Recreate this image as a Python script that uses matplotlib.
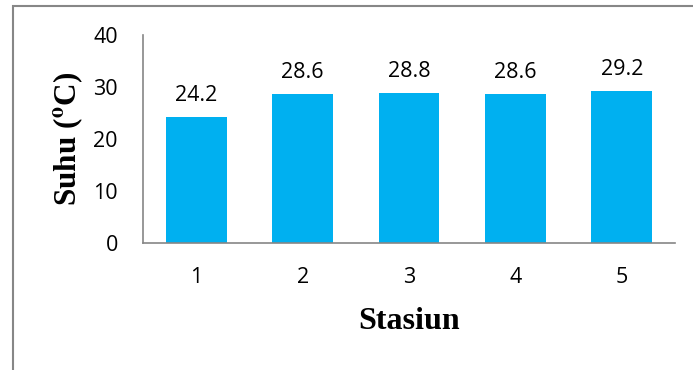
import matplotlib.pyplot as plt
from matplotlib.patches import Rectangle

stasiun = ['1', '2', '3', '4', '5']
suhu = [24.2, 28.6, 28.8, 28.6, 29.2]
yticks = [0, 10, 20, 30, 40]

plt.rcParams['mathtext.fontset'] = 'stix'

fig = plt.figure(figsize=(6.93, 3.70), dpi=100)
W, H = 693, 370
ax = fig.add_axes([143 / W, 1 - 243 / H, (675 - 143) / W, (243 - 35) / H])

# light frame around the chart area
fig.patches.append(Rectangle((13 / W, -0.1), 1.2, 1 - 6 / H + 0.1, transform=fig.transFigure,
                             fill=False, edgecolor='#878787', linewidth=1.5))

x = range(len(stasiun))
bars = ax.bar(x, suhu, width=0.57, color='#00B0F0')
for b, v in zip(bars, suhu):
    ax.annotate(f'{v}', (b.get_x() + b.get_width() / 2, v), xytext=(0, 8),
                textcoords='offset points', ha='center', va='bottom',
                fontsize=15.5, family='Open Sans')

ax.set_xlim(-0.5, len(stasiun) - 0.5)
ax.set_ylim(0, 40)
ax.set_yticks(yticks)
ax.set_xticks(list(x))
ax.set_xticklabels(stasiun)
for lab in ax.get_xticklabels() + ax.get_yticklabels():
    lab.set_family('Open Sans')
    lab.set_fontsize(15.5)
ax.tick_params(length=0)
ax.tick_params(axis='x', pad=17)
ax.tick_params(axis='y', pad=18)

for s in ['top', 'right']:
    ax.spines[s].set_visible(False)
for s in ['left', 'bottom']:
    ax.spines[s].set_color('#868686')
    ax.spines[s].set_linewidth(1.2)

ax.set_ylabel(r'Suhu ($^{\mathbf{o}}$C)', family='Liberation Serif', fontweight='bold',
              fontsize=22.5, labelpad=6)
ax.set_xlabel('Stasiun', family='Liberation Serif', fontweight='bold', fontsize=23, labelpad=14)

fig.savefig('out.png', dpi=100)
